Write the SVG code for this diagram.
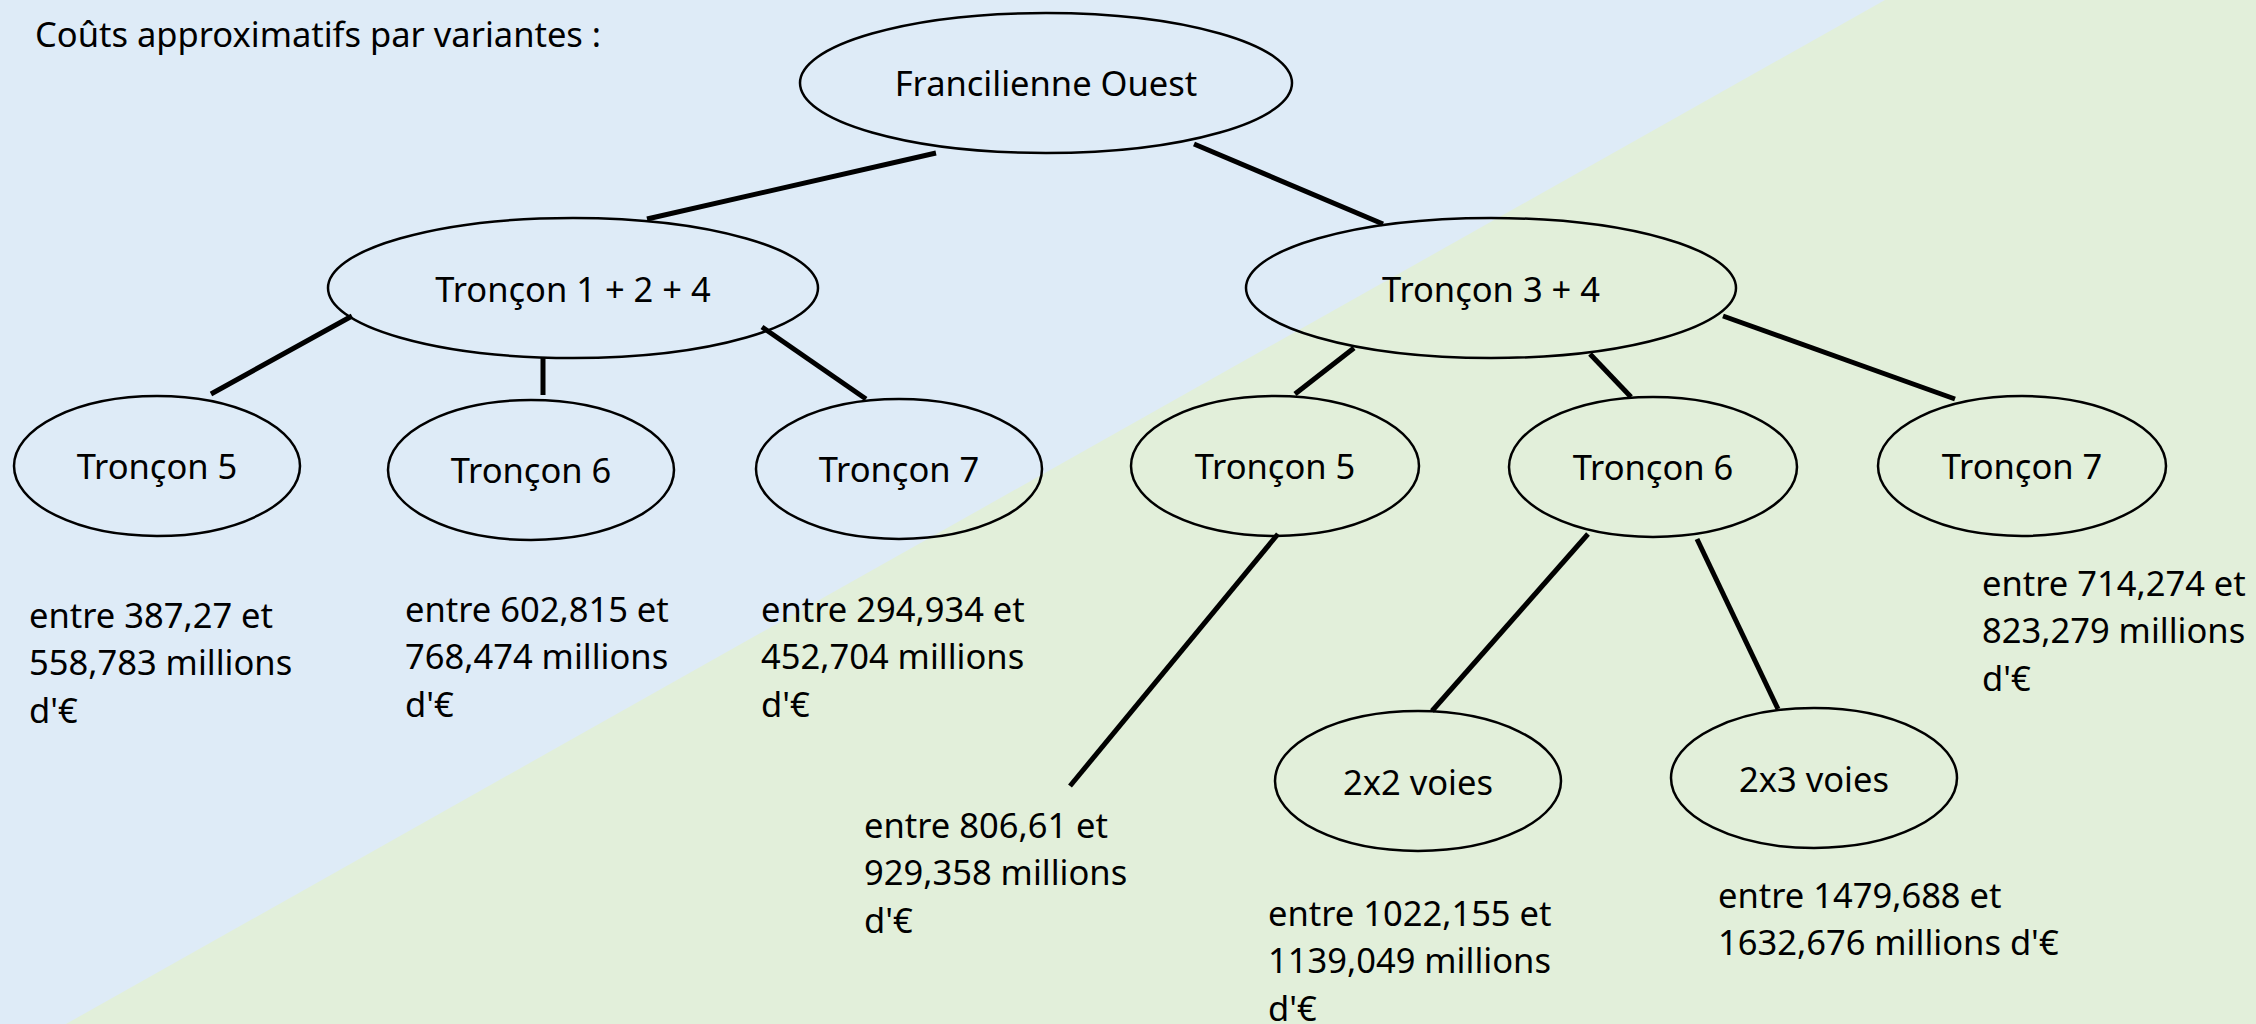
<svg xmlns="http://www.w3.org/2000/svg" width="2256" height="1024" viewBox="0 0 2256 1024">
<style>
.bg1{fill:#DEEBF7}
.bg2{fill:#E2EFDA}
.node ellipse{fill:none;stroke:#000;stroke-width:2.5}
.node text{font-family:"Noto Sans","Open Sans",sans-serif;font-size:34.5px;fill:#000;text-anchor:middle}
.lbl{font-family:"Noto Sans","Open Sans",sans-serif;font-size:34.5px;fill:#000}
#connectors line{stroke:#000;stroke-width:5;stroke-linecap:butt}
</style>
<rect class="bg1" x="0" y="0" width="2256" height="1024"/>
<polygon class="bg2" points="1885,0 2256,0 2256,1024 66,1024"/>
<text class="lbl" x="35" y="47">Coûts approximatifs par variantes :</text>
<g id="connectors">
<line x1="936" y1="153" x2="647" y2="219"/>
<line x1="1194" y1="144" x2="1383" y2="224"/>
<line x1="352" y1="316" x2="211" y2="394"/>
<line x1="543" y1="357" x2="543" y2="395"/>
<line x1="762" y1="327" x2="866" y2="399"/>
<line x1="1354" y1="348" x2="1295" y2="394"/>
<line x1="1590" y1="354" x2="1631" y2="397"/>
<line x1="1723" y1="316" x2="1955" y2="399"/>
<line x1="1278" y1="534" x2="1070" y2="786"/>
<line x1="1588" y1="534" x2="1432" y2="711"/>
<line x1="1697" y1="539" x2="1778" y2="709"/>
</g>
<g id="n-root" class="node"><ellipse cx="1046" cy="83" rx="246" ry="70"/><text x="1046" y="96">Francilienne Ouest</text></g>
<g id="n-t124" class="node"><ellipse cx="573" cy="288" rx="245" ry="70"/><text x="573" y="302">Tronçon 1 + 2 + 4</text></g>
<g id="n-t34" class="node"><ellipse cx="1491" cy="288" rx="245" ry="70"/><text x="1491" y="302">Tronçon 3 + 4</text></g>
<g id="n-l5" class="node"><ellipse cx="157" cy="466" rx="143" ry="70"/><text x="157" y="479">Tronçon 5</text></g>
<g id="n-l6" class="node"><ellipse cx="531" cy="470" rx="143" ry="70"/><text x="531" y="483">Tronçon 6</text></g>
<g id="n-l7" class="node"><ellipse cx="899" cy="469" rx="143" ry="70"/><text x="899" y="482">Tronçon 7</text></g>
<g id="n-r5" class="node"><ellipse cx="1275" cy="466" rx="144" ry="70"/><text x="1275" y="479">Tronçon 5</text></g>
<g id="n-r6" class="node"><ellipse cx="1653" cy="467" rx="144" ry="70"/><text x="1653" y="480">Tronçon 6</text></g>
<g id="n-r7" class="node"><ellipse cx="2022" cy="466" rx="144" ry="70"/><text x="2022" y="479">Tronçon 7</text></g>
<g id="n-22" class="node"><ellipse cx="1418" cy="781" rx="143" ry="70"/><text x="1418" y="795">2x2 voies</text></g>
<g id="n-23" class="node"><ellipse cx="1814" cy="778" rx="143" ry="70"/><text x="1814" y="792">2x3 voies</text></g>
<g id="labels">
<text class="lbl" x="29" y="628"><tspan x="29">entre 387,27 et</tspan><tspan x="29" dy="47.3">558,783 millions</tspan><tspan x="29" dy="47.3">d'€</tspan></text>
<text class="lbl" x="405" y="622"><tspan x="405">entre 602,815 et</tspan><tspan x="405" dy="47.3">768,474 millions</tspan><tspan x="405" dy="47.3">d'€</tspan></text>
<text class="lbl" x="761" y="622"><tspan x="761">entre 294,934 et</tspan><tspan x="761" dy="47.3">452,704 millions</tspan><tspan x="761" dy="47.3">d'€</tspan></text>
<text class="lbl" x="864" y="838"><tspan x="864">entre 806,61 et</tspan><tspan x="864" dy="47.3">929,358 millions</tspan><tspan x="864" dy="47.3">d'€</tspan></text>
<text class="lbl" x="1982" y="596"><tspan x="1982">entre 714,274 et</tspan><tspan x="1982" dy="47.3">823,279 millions</tspan><tspan x="1982" dy="47.3">d'€</tspan></text>
<text class="lbl" x="1268" y="926"><tspan x="1268">entre 1022,155 et</tspan><tspan x="1268" dy="47.3">1139,049 millions</tspan><tspan x="1268" dy="47.3">d'€</tspan></text>
<text class="lbl" x="1718" y="908"><tspan x="1718">entre 1479,688 et</tspan><tspan x="1718" dy="47.3">1632,676 millions d'€</tspan></text>
</g>
</svg>
